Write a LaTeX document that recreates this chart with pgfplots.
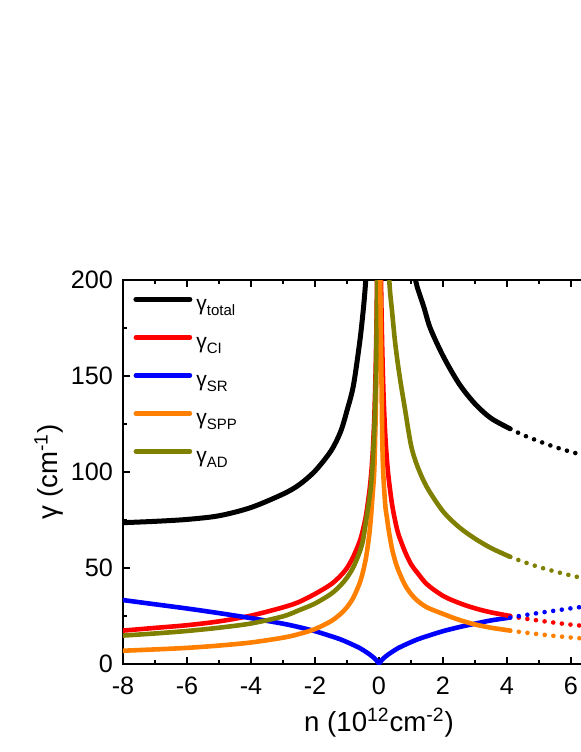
\documentclass[border=0pt]{standalone}
\usepackage{fontspec}
\setmainfont{Liberation Sans}
\usepackage{pgfplots}
\pgfplotsset{compat=1.18}
\definecolor{cOrange}{RGB}{255,128,0}
\definecolor{cOlive}{RGB}{128,128,0}
\newcommand{\sub}[1]{\raisebox{-2.7pt}{\fontsize{7.5}{9}\selectfont #1}}
\begin{document}
\begin{tikzpicture}
\begin{axis}[
    scale only axis,
    width=256pt, height=192pt,
    xmin=-8, xmax=8, ymin=0, ymax=200,
    xtick={-8,-6,...,8}, ytick={0,50,...,200},
    minor x tick num=1, minor y tick num=1,
    tick align=inside,
    major tick length=3.5pt, minor tick length=2pt,
    every tick/.style={line width=0.8pt, black},
    axis line style={line width=0.8pt},
    /pgf/number format/assume math mode=true,
    ticklabel style={font=\fontsize{12.6}{15}\selectfont},
    xticklabel style={yshift=-3pt},
    yticklabel style={xshift=-1.5pt},
    xlabel={n (10\textsuperscript{12}cm\textsuperscript{-2})},
    ylabel={γ (cm\textsuperscript{-1})},
    label style={font=\fontsize{13.8}{16}\selectfont},
    xlabel style={at={(axis description cs:0.5,0)}, anchor=base, yshift=-33.8pt},
    ylabel style={at={(axis description cs:-0.127,0.5)}, anchor=base},
    legend style={at={(axis description cs:0,1)}, anchor=north west,
        xshift=5pt, yshift=-7pt, draw=none, fill=none, inner sep=0pt,
        font=\fontsize{10.5}{12}\selectfont, row sep=7pt,
        nodes={inner sep=0pt, text height=8pt, text depth=4pt},
        column sep=2pt},
    legend cell align=left,
    legend image code/.code={\draw[#1, line cap=round] (1pt,3.5pt) -- (28pt,3.5pt);},
    every axis plot/.append style={line width=2.3pt, line cap=round, line join=round, smooth},
    dots/.style={dash pattern=on 0pt off 4.35pt, forget plot},
]
% legend-bearing solid segments
\addplot[black, line width=2.5pt] coordinates {(-8,73.6) (-7,74.3) (-6,75.3) (-5,77.2) (-4,81.5) (-3,88.5) (-2.5,93.3) (-2,100.5) (-1.5,111) (-1.2,121) (-1,132) (-0.8,145) (-0.6,168) (-0.5,183) (-0.45,192) (-0.4,203) (-0.38,210)};
\addplot[red] coordinates {(-8,17.4) (-7,18.8) (-6,20.2) (-5,22.2) (-4,25.2) (-3,29.5) (-2.5,32.3) (-2,36.5) (-1.5,41.5) (-1.2,46) (-1,50) (-0.8,56) (-0.6,64) (-0.5,70) (-0.4,78) (-0.3,90) (-0.25,98) (-0.2,109) (-0.15,127) (-0.12,143) (-0.1,157) (-0.08,176) (-0.07,188) (-0.06,203) (-0.05,222)};
\addplot[blue] coordinates {(-8,33.3) (-7,31.1) (-6,28.9) (-5,26.5) (-4,23.9) (-3,21.0) (-2.5,19.2) (-2,17.1) (-1.5,14.5) (-1.2,12.8) (-1,11.4) (-0.8,9.9) (-0.6,8.3) (-0.5,7.3) (-0.4,6.2) (-0.3,5.1) (-0.2,3.8) (-0.1,2.3) (-0.05,1.3) (0,0.3) (0.05,1.3) (0.1,2.3) (0.2,3.8) (0.3,5.1) (0.4,6.2) (0.5,7.3) (0.6,8.3) (0.8,9.9) (1,11.4) (1.2,12.8) (1.5,14.5) (2,17.1) (2.5,19.2) (3,21.0) (3.5,22.7) (4.1,24.2)};
\addplot[cOrange] coordinates {(-8,6.9) (-7,7.6) (-6,8.4) (-5,9.6) (-4,11.2) (-3,13.7) (-2.5,15.6) (-2,18.2) (-1.5,22.3) (-1.2,26.1) (-1,29.6) (-0.8,34.6) (-0.6,42.3) (-0.5,48.1) (-0.4,56) (-0.3,68) (-0.25,77) (-0.2,88) (-0.15,100) (-0.12,118) (-0.1,132) (-0.08,152) (-0.06,178) (-0.05,195) (-0.04,215)};
\addplot[cOlive] coordinates {(-8,14.8) (-7,15.9) (-6,17.2) (-5,18.9) (-4,21.1) (-3,24.8) (-2.5,28) (-2,31.5) (-1.5,36.5) (-1.2,41) (-1,45) (-0.8,50.5) (-0.6,58.5) (-0.5,64.5) (-0.4,75) (-0.3,86) (-0.25,93) (-0.2,104) (-0.15,121) (-0.12,135) (-0.1,148) (-0.08,166) (-0.06,192) (-0.05,210)};
\legend{γ\sub{total}, γ\sub{CI}, γ\sub{SR}, γ\sub{SPP}, γ\sub{AD}}
% right-hand solid segments
\addplot[black, line width=2.5pt, forget plot] coordinates {(1.05,210) (1.14,200) (1.2,196) (1.4,186) (1.6,175) (2,160.5) (2.5,146) (3,135.5) (3.5,128) (4.1,122.5)};
\addplot[red, forget plot] coordinates {(0.05,222) (0.06,205) (0.07,192) (0.08,182) (0.1,165) (0.12,152) (0.15,136) (0.2,118) (0.25,106) (0.3,97) (0.4,84) (0.5,75) (0.6,68) (0.8,59) (1,52) (1.2,47.5) (1.5,41.5) (2,35.5) (2.5,31.8) (3,29) (3.5,26.9) (4.1,25.0)};
\addplot[cOrange, forget plot] coordinates {(0.035,215) (0.04,200) (0.05,185) (0.06,170) (0.08,145) (0.1,120) (0.12,105) (0.15,94) (0.2,82) (0.25,76) (0.3,70) (0.4,60.5) (0.5,54) (0.6,49) (0.8,41.5) (1,36.5) (1.2,33) (1.5,29.5) (2,26.1) (2.5,23) (3,20.6) (3.5,18.9) (4.1,17.4)};
\addplot[cOlive, forget plot] coordinates {(0.28,212) (0.32,200) (0.35,193) (0.4,185) (0.5,168) (0.6,155) (0.7,144) (0.8,134) (1,114) (1.2,103) (1.5,92) (2,79.5) (2.5,71.3) (3,65.3) (3.5,60.4) (4.1,55.8)};
% dotted continuation
\addplot[black, line width=2.3pt, dots] coordinates {(4.1,122.5) (4.5,119.3) (5,116) (5.5,113) (6,110.5) (6.5,108.3) (7,106.3) (7.5,104.5) (8,103)};
\addplot[red, dots] coordinates {(4.1,25.0) (4.5,23.8) (5,22.6) (5.5,21.5) (6,20.5) (6.5,19.7) (7,19.0) (7.5,18.3) (8,17.7)};
\addplot[blue, dots] coordinates {(4.1,24.2) (4.5,25.3) (5,26.6) (5.5,27.8) (6,29.0) (6.5,30.1) (7,31.2) (7.5,32.3) (8,33.3)};
\addplot[cOrange, dots] coordinates {(4.1,17.4) (4.5,16.5) (5,15.5) (5.5,14.6) (6,13.8) (6.5,13.1) (7,12.5) (7.5,12.0) (8,11.5)};
\addplot[cOlive, dots] coordinates {(4.1,55.8) (4.5,53.3) (5,50.5) (5.5,48.2) (6,46.1) (6.5,44.3) (7,42.7) (7.5,41.3) (8,40)};
\end{axis}
\pgfresetboundingbox
\useasboundingbox (-61.5pt,-44pt) rectangle (229pt,332pt);
\end{tikzpicture}
\end{document}
